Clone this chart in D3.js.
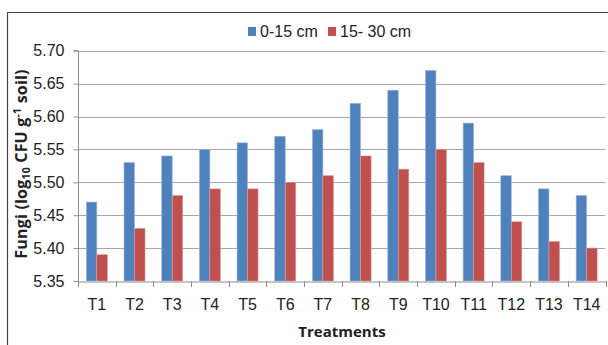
<!DOCTYPE html>
<html><head><meta charset="utf-8">
<script src="https://cdn.jsdelivr.net/npm/d3@7"></script>
<style>
html,body{margin:0;padding:0;background:#fff;}
svg{display:block;}
text{font-family:"Liberation Sans Narrow","Arial Narrow","Liberation Sans",sans-serif;fill:#222;}
.bold{font-family:"Open Sans","Liberation Sans",sans-serif;font-weight:bold;}
</style></head>
<body><svg id="c" width="608" height="345"></svg>
<script>
const categories = ["T1","T2","T3","T4","T5","T6","T7","T8","T9","T10","T11","T12","T13","T14"];
const seriesNames = ["0-15 cm","15- 30 cm"];
const depth0to15 = [5.47,5.53,5.54,5.55,5.56,5.57,5.58,5.62,5.64,5.67,5.59,5.51,5.49,5.48];
const depth15to30 = [5.39,5.43,5.48,5.49,5.49,5.50,5.51,5.54,5.52,5.55,5.53,5.44,5.41,5.40];
const yTicks = [5.35,5.40,5.45,5.50,5.55,5.60,5.65,5.70];
const colors = ["#4F81BD","#C0504D"];

const svg = d3.select("#c");
// outer border
svg.append("path").attr("d","M7.5,350 V12.5 H612").attr("fill","none").attr("stroke","#444").attr("stroke-width",1.2);

const pL = 78, pR = 605.5, pT = 50.7, pB = 281;
const x = d3.scaleBand().domain(categories).range([pL, pR]);
const y = d3.scaleLinear().domain([5.35,5.70]).range([pB, pT]);
const inner = d3.scaleBand().domain(seriesNames).range([0, 21]);
const groupOff = (x.bandwidth()-21)/2;

// gridlines
svg.append("g").selectAll("line").data(yTicks.slice(1)).join("line")
  .attr("x1",pL).attr("x2",pR)
  .attr("y1",d=>Math.round(y(d))+0.5).attr("y2",d=>Math.round(y(d))+0.5)
  .attr("stroke","#a6a6a6").attr("stroke-width",1);

// bars
const data = categories.map((c,i)=>({c, vals:[depth0to15[i], depth15to30[i]]}));
const g = svg.append("g").selectAll("g").data(data).join("g")
  .attr("transform",d=>`translate(${x(d.c)+groupOff},0)`);
g.selectAll("rect").data(d=>d.vals.map((v,j)=>({v,j}))).join("rect")
  .attr("x",d=>inner(seriesNames[d.j]))
  .attr("width",inner.bandwidth())
  .attr("y",d=>y(d.v))
  .attr("height",d=>pB-y(d.v))
  .attr("fill",d=>colors[d.j])
  .attr("stroke",d=>d.j===0?"#9db8dc":"#dc9c9a").attr("stroke-width",0.6);

// y axis
const yAxis = d3.axisLeft(y).tickValues(yTicks).tickFormat(d3.format(".2f")).tickSize(5).tickPadding(9);
const ya = svg.append("g").attr("transform",`translate(${pL+0.5},0)`).call(yAxis);
ya.select(".domain").attr("stroke","#909090").attr("d",`M-5,${pT}H0V${pB}`);
ya.selectAll(".tick line").attr("stroke","#909090");
ya.selectAll(".tick text").attr("font-size",16).attr("fill","#222").attr("font-family","Liberation Sans Narrow, sans-serif");

// x axis
const xa = svg.append("g").attr("transform",`translate(0,${pB+0.5})`)
  .call(d3.axisBottom(x).tickSize(0).tickPadding(17));
xa.select(".domain").attr("stroke","#909090");
xa.selectAll(".tick text").attr("font-size",16).attr("fill","#222").attr("font-family","Liberation Sans Narrow, sans-serif");
// category boundary ticks
svg.append("g").selectAll("line").data(categories.concat(["_end"])).join("line")
  .attr("x1",(d,i)=>Math.round(pL + i*x.step())+0.5)
  .attr("x2",(d,i)=>Math.round(pL + i*x.step())+0.5)
  .attr("y1",pB).attr("y2",pB+6).attr("stroke","#909090");

// axis titles
svg.append("text").attr("class","bold").attr("x",342).attr("y",337)
  .attr("text-anchor","middle").attr("font-size",15).text("Treatments");
const yt = svg.append("text").attr("class","bold")
  .attr("transform","translate(26.5,164) rotate(-90)")
  .attr("text-anchor","middle").attr("font-size",16).attr("letter-spacing",0.2);
yt.append("tspan").text("Fungi (log");
yt.append("tspan").attr("font-size",10.5).attr("dy",3).text("10");
yt.append("tspan").attr("dy",-3).text(" CFU g");
yt.append("tspan").attr("font-size",10.5).attr("dy",-6).text("-1");
yt.append("tspan").attr("dy",6).text(" soil)");

// legend
const legX = [248, 328];
const lg = svg.append("g").selectAll("g").data(seriesNames).join("g")
  .attr("transform",(d,i)=>`translate(${legX[i]},0)`);
lg.append("rect").attr("x",0).attr("y",27).attr("width",8).attr("height",9)
  .attr("fill",(d,i)=>colors[i]);
lg.append("text").attr("x",12).attr("y",37).attr("font-size",16).text(d=>d);
</script></body></html>
